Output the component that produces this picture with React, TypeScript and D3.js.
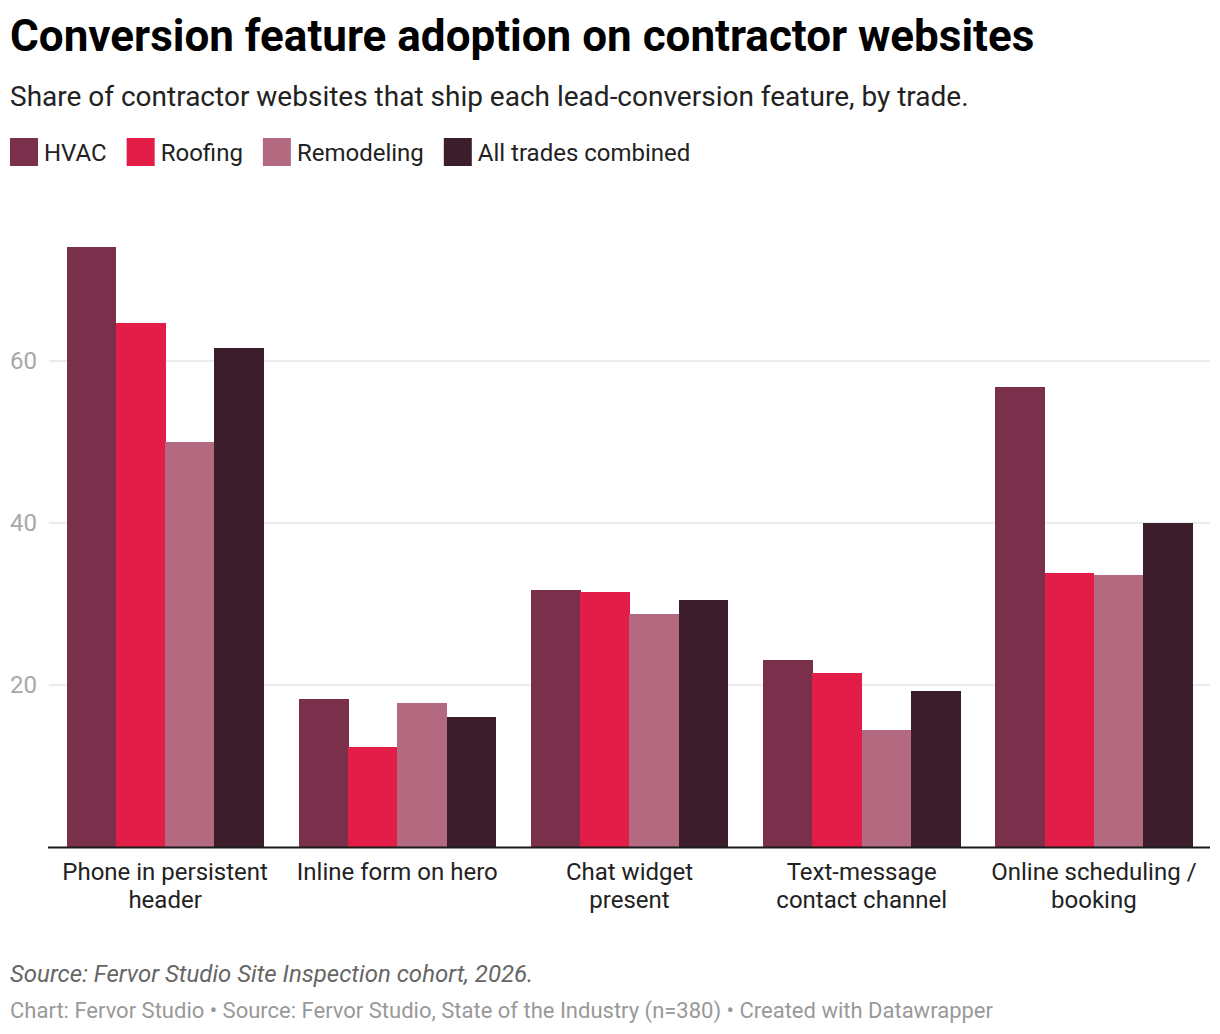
import * as d3 from "d3";
import { useEffect, useRef } from "react";

const categories = [
	"Phone in persistent header",
	"Inline form on hero",
	"Chat widget present",
	"Text-message contact channel",
	"Online scheduling / booking",
];
// where each category label breaks onto a second line
const categoryLines = [
	["Phone in persistent", "header"],
	["Inline form on hero"],
	["Chat widget", "present"],
	["Text-message", "contact channel"],
	["Online scheduling /", "booking"],
];

const seriesNames = ["HVAC", "Roofing", "Remodeling", "All trades combined"];
const seriesColors = ["#7a2f4b", "#e21e48", "#b36a80", "#3b1d2c"];

const hvac = [74.1, 18.3, 31.7, 23.1, 56.8];
const roofing = [64.7, 12.3, 31.5, 21.5, 33.8];
const remodeling = [50.0, 17.8, 28.8, 14.4, 33.6];
const allTrades = [61.6, 16.0, 30.5, 19.3, 40.0];

const yTicks = [20, 40, 60];

const title = "Conversion feature adoption on contractor websites";
const subtitle =
	"Share of contractor websites that ship each lead-conversion feature, by trade.";
const sourceNote = "Source: Fervor Studio Site Inspection cohort, 2026.";
const credits =
	"Chart: Fervor Studio • Source: Fervor Studio, State of the Industry (n=380) • Created with Datawrapper";

const W = 1220;
const H = 1034;
const FONT = "Roboto, 'Noto Sans', sans-serif";

export default function App() {
	const ref = useRef<SVGSVGElement | null>(null);

	useEffect(() => {
		document.body.style.margin = "0";
		if (!ref.current) return;
		const svg = d3.select(ref.current);
		svg.selectAll("*").remove();
		svg.attr("width", W).attr("height", H).style("font-family", FONT);

		const values = [hvac, roofing, remodeling, allTrades];

		// header
		svg
			.append("text")
			.attr("x", 10)
			.attr("y", 51)
			.attr("font-size", 44)
			.attr("font-weight", 700)
			.attr("fill", "#000")
			.text(title);

		svg
			.append("text")
			.attr("x", 10)
			.attr("y", 106)
			.attr("font-size", 28)
			.attr("fill", "#222")
			.text(subtitle);

		// legend
		const legend = svg.append("g").attr("transform", "translate(10,138)");
		let lx = 0;
		seriesNames.forEach((name, i) => {
			const g = legend.append("g").attr("transform", `translate(${lx},0)`);
			g.append("rect").attr("width", 28).attr("height", 28).attr("fill", seriesColors[i]);
			const t = g
				.append("text")
				.attr("x", 34)
				.attr("y", 23)
				.attr("font-size", 24)
				.attr("fill", "#222")
				.text(name);
			const w = (t.node() as SVGTextElement).getComputedTextLength();
			lx += 34 + w + 20;
		});

		// scales
		const x0 = d3
			.scaleBand<string>()
			.domain(categories)
			.range([49, 1210])
			.paddingInner(0.152)
			.paddingOuter(0.076);
		const x1 = d3
			.scaleBand<string>()
			.domain(seriesNames)
			.range([0, x0.bandwidth()]);
		const y = d3.scaleLinear().domain([0, 80]).range([847, 847 - 80 * 8.1]);

		// gridlines
		const grid = svg.append("g");
		grid
			.selectAll("line")
			.data(yTicks)
			.join("line")
			.attr("x1", 49)
			.attr("x2", 1210)
			.attr("y1", (d) => y(d))
			.attr("y2", (d) => y(d))
			.attr("stroke", "#e5e5e5")
			.attr("stroke-width", 1.6);
		grid
			.selectAll("text")
			.data(yTicks)
			.join("text")
			.attr("x", 37)
			.attr("y", (d) => y(d))
			.attr("dy", "0.35em")
			.attr("text-anchor", "end")
			.attr("font-size", 24)
			.attr("fill", "#a8a8a8")
			.text((d) => d);

		// bars
		const groups = svg
			.append("g")
			.attr("shape-rendering", "crispEdges")
			.selectAll("g")
			.data(categories)
			.join("g")
			.attr("transform", (d) => `translate(${x0(d)},0)`);
		groups
			.selectAll("rect")
			.data((_, ci) => seriesNames.map((s, si) => ({ s, si, v: values[si][ci] })))
			.join("rect")
			.attr("x", (d) => x1(d.s) ?? 0)
			.attr("width", x1.bandwidth() + 0.5)
			.attr("y", (d) => y(d.v))
			.attr("height", (d) => y(0) - y(d.v))
			.attr("fill", (d) => seriesColors[d.si]);

		// baseline
		svg
			.append("line")
			.attr("x1", 48)
			.attr("x2", 1210)
			.attr("y1", 847.5)
			.attr("y2", 847.5)
			.attr("stroke", "#1a1a1a")
			.attr("stroke-width", 2);

		// category labels
		const labels = svg
			.append("g")
			.selectAll("text")
			.data(categories)
			.join("text")
			.attr("x", (d) => (x0(d) ?? 0) + x0.bandwidth() / 2)
			.attr("y", 880)
			.attr("text-anchor", "middle")
			.attr("font-size", 24)
			.attr("fill", "#222");
		labels
			.selectAll("tspan")
			.data((_, i) => categoryLines[i])
			.join("tspan")
			.attr("x", function () {
				return (this.parentNode as SVGTextElement).getAttribute("x");
			})
			.attr("dy", (_, i) => (i === 0 ? 0 : 28))
			.text((d) => d);

		// footer
		svg
			.append("text")
			.attr("x", 10)
			.attr("y", 982)
			.attr("font-size", 24)
			.attr("font-style", "italic")
			.attr("fill", "#666")
			.text(sourceNote);
		svg
			.append("text")
			.attr("x", 10)
			.attr("y", 1018)
			.attr("font-size", 22)
			.attr("fill", "#999")
			.text(credits);
	}, []);

	return <svg ref={ref} style={{ display: "block" }}></svg>;
}
